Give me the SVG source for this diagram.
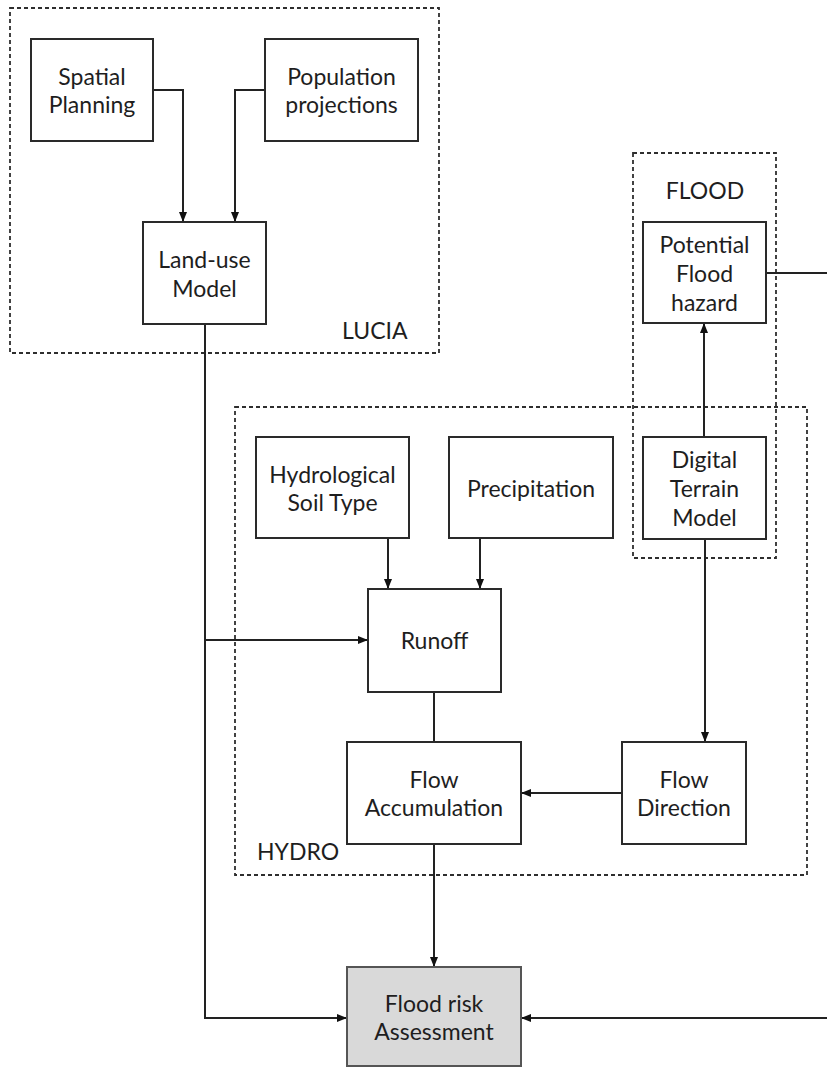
<svg xmlns="http://www.w3.org/2000/svg" width="827" height="1069" viewBox="0 0 827 1069">
<defs>
<style>
.grp{fill:none;stroke:#2e2e2e;stroke-width:1.8;stroke-dasharray:4,3}
.box{fill:#fff;stroke:#2a2a2a;stroke-width:2}
.hl{fill:#d9d9d9;stroke:#555;stroke-width:2}
.t{font-family:Lato,"Open Sans","Liberation Sans",sans-serif;font-size:23px;fill:#1e1e1e;text-anchor:middle}
.lbl{font-family:Lato,"Open Sans","Liberation Sans",sans-serif;font-size:23px;fill:#1e1e1e}
.c{fill:none;stroke:#222;stroke-width:2}
</style>
<marker id="ah" viewBox="0 0 10 10" refX="10" refY="5" markerWidth="10" markerHeight="10" markerUnits="userSpaceOnUse" orient="auto">
<path d="M0,1 L10,5 L0,9 z" fill="#111"/>
</marker>
</defs>
<rect width="827" height="1069" fill="#fff"/>

<g id="groups">
<rect class="grp" x="10" y="8" width="429" height="345"/>
<text class="lbl" x="342" y="339">LUCIA</text>
<rect class="grp" x="633" y="153" width="143" height="405"/>
<text class="t" x="705" y="199">FLOOD</text>
<rect class="grp" x="235" y="407" width="572" height="468"/>
<text class="lbl" x="257" y="860">HYDRO</text>
</g>

<g id="connectors">
<path class="c" d="M153,90 H183 V222" marker-end="url(#ah)"/>
<path class="c" d="M265,90 H235 V222" marker-end="url(#ah)"/>
<path class="c" d="M205,324 V1018 H347" marker-end="url(#ah)"/>
<path class="c" d="M205,640 H368" marker-end="url(#ah)"/>
<path class="c" d="M388,538 V589" marker-end="url(#ah)"/>
<path class="c" d="M480,538 V589" marker-end="url(#ah)"/>
<path class="c" d="M434,692 V742"/>
<path class="c" d="M622,793 H521" marker-end="url(#ah)"/>
<path class="c" d="M705,539 V742" marker-end="url(#ah)"/>
<path class="c" d="M704,437 V323" marker-end="url(#ah)"/>
<path class="c" d="M766,273 H827"/>
<path class="c" d="M827,1018 H521" marker-end="url(#ah)"/>
<path class="c" d="M434,844 V967" marker-end="url(#ah)"/>
</g>

<g id="spatial-planning">
<rect class="box" x="31" y="39" width="122" height="102"/>
<text class="t" x="92" y="85">Spatial</text>
<text class="t" x="92" y="113">Planning</text>
</g>
<g id="population-projections">
<rect class="box" x="265" y="39" width="153" height="102"/>
<text class="t" x="341.5" y="85">Population</text>
<text class="t" x="341.5" y="113">projections</text>
</g>
<g id="land-use-model">
<rect class="box" x="143" y="222" width="123" height="102"/>
<text class="t" x="204.5" y="268">Land-use</text>
<text class="t" x="204.5" y="297">Model</text>
</g>
<g id="potential-flood-hazard">
<rect class="box" x="643" y="222" width="123" height="101"/>
<text class="t" x="704.5" y="253">Potential</text>
<text class="t" x="704.5" y="282">Flood</text>
<text class="t" x="704.5" y="311">hazard</text>
</g>
<g id="digital-terrain-model">
<rect class="box" x="643" y="437" width="123" height="102"/>
<text class="t" x="704.5" y="468">Digital</text>
<text class="t" x="704.5" y="497">Terrain</text>
<text class="t" x="704.5" y="526">Model</text>
</g>
<g id="hydrological-soil-type">
<rect class="box" x="256" y="437" width="153" height="101"/>
<text class="t" x="332.5" y="483">Hydrological</text>
<text class="t" x="332.5" y="511">Soil Type</text>
</g>
<g id="precipitation">
<rect class="box" x="449" y="437" width="164" height="101"/>
<text class="t" x="531" y="497">Precipitation</text>
</g>
<g id="runoff">
<rect class="box" x="368" y="589" width="133" height="103"/>
<text class="t" x="434.5" y="649">Runoff</text>
</g>
<g id="flow-accumulation">
<rect class="box" x="347" y="742" width="174" height="102"/>
<text class="t" x="434" y="788">Flow</text>
<text class="t" x="434" y="816">Accumulation</text>
</g>
<g id="flow-direction">
<rect class="box" x="622" y="742" width="124" height="102"/>
<text class="t" x="684" y="788">Flow</text>
<text class="t" x="684" y="816">Direction</text>
</g>
<g id="flood-risk-assessment">
<rect class="hl" x="347" y="967" width="174" height="99"/>
<text class="t" x="434" y="1012">Flood risk</text>
<text class="t" x="434" y="1040">Assessment</text>
</g>
</svg>
